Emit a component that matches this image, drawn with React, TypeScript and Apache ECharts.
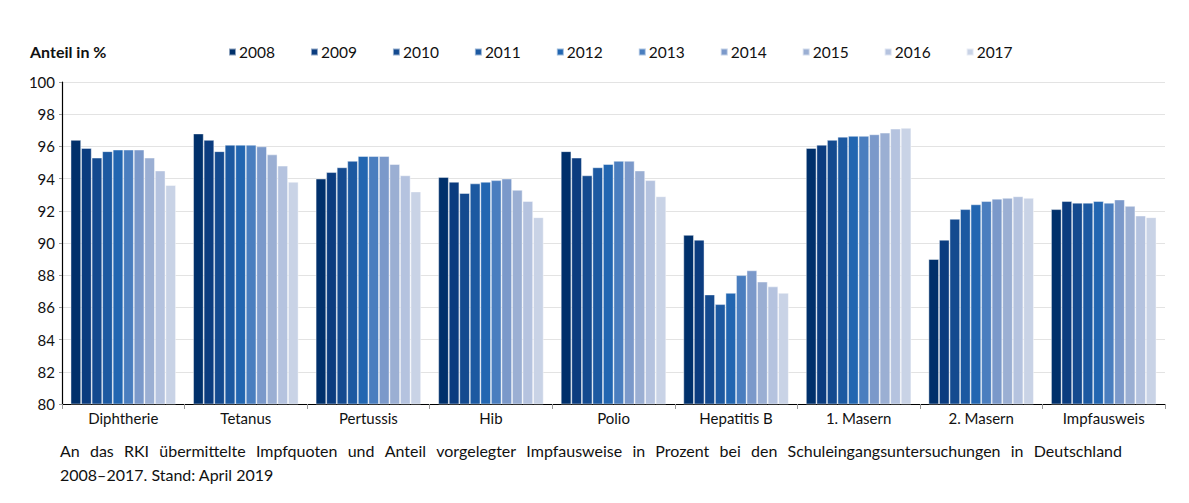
import React, { useEffect, useRef } from "react";
import * as echarts from "echarts";

const categories = ["Diphtherie", "Tetanus", "Pertussis", "Hib", "Polio", "Hepatitis B", "1. Masern", "2. Masern", "Impfausweis"];
const years = ["2008", "2009", "2010", "2011", "2012", "2013", "2014", "2015", "2016", "2017"];

// values per vaccine, one entry per year 2008..2017
const diphtherie = [96.4, 95.9, 95.3, 95.7, 95.8, 95.8, 95.8, 95.3, 94.5, 93.6];
const tetanus = [96.8, 96.4, 95.7, 96.1, 96.1, 96.1, 96.0, 95.5, 94.8, 93.8];
const pertussis = [94.0, 94.4, 94.7, 95.1, 95.4, 95.4, 95.4, 94.9, 94.2, 93.2];
const hib = [94.1, 93.8, 93.1, 93.7, 93.8, 93.9, 94.0, 93.3, 92.6, 91.6];
const polio = [95.7, 95.3, 94.2, 94.7, 94.9, 95.1, 95.1, 94.5, 93.9, 92.9];
const hepatitisB = [90.5, 90.2, 86.8, 86.2, 86.9, 88.0, 88.3, 87.6, 87.3, 86.9];
const masern1 = [95.9, 96.1, 96.4, 96.6, 96.65, 96.65, 96.75, 96.85, 97.1, 97.15];
const masern2 = [89.0, 90.2, 91.5, 92.1, 92.4, 92.6, 92.75, 92.8, 92.9, 92.8];
const impfausweis = [92.1, 92.6, 92.5, 92.5, 92.6, 92.5, 92.7, 92.3, 91.7, 91.6];

const yTicks = [80, 82, 84, 86, 88, 90, 92, 94, 96, 98, 100];

const colors = ["#00306b", "#0b3c7f", "#144a8f", "#1c59a1", "#2266b1", "#4a7ebf", "#7b99ca", "#9bafd3", "#b5c3df", "#c9d3e6"];

const yAxisTitle = "Anteil in %";
const captionLine1 = "An das RKI übermittelte Impfquoten und Anteil vorgelegter Impfausweise in Prozent bei den Schuleingangsuntersuchungen in Deutschland";
const captionLine2 = "2008–2017. Stand: April 2019";

const FONT = "Lato, 'Open Sans', sans-serif";
const CAPTION_SIZE = 16;

function justifiedRich(text: string, width: number, fontSize: number) {
  const words = text.split(" ");
  let gap = fontSize * 0.3;
  try {
    const ctx = document.createElement("canvas").getContext("2d");
    if (ctx) {
      ctx.font = `${fontSize}px Lato`;
      const total = words.reduce((s, w) => s + ctx.measureText(w).width, 0);
      gap = Math.max(fontSize * 0.25, (width - total) / (words.length - 1));
    }
  } catch (e) {}
  const parts: string[] = [];
  words.forEach((w, i) => {
    parts.push(`{w|${w}}`);
    if (i < words.length - 1) parts.push(`{s| }`);
  });
  return { text: parts.join(""), gap };
}

export default function App() {
  const ref = useRef<HTMLDivElement>(null);
  useEffect(() => {
    if (!ref.current) return;
    const chart = echarts.init(ref.current, null, { renderer: "svg" });
    const byVaccine = [diphtherie, tetanus, pertussis, hib, polio, hepatitisB, masern1, masern2, impfausweis];
    const series = years.map((y, i) => ({
      name: y,
      type: "bar" as const,
      data: byVaccine.map((arr) => arr[i]),
      barGap: "0%",
      barCategoryGap: "14%",
      itemStyle: { color: colors[i], borderColor: "rgba(255,255,255,0.55)", borderWidth: 0.8 },
    }));
    const cap = justifiedRich(captionLine1, 1062, CAPTION_SIZE);
    chart.setOption({
      animation: false,
      textStyle: { fontFamily: FONT },
      grid: { left: 62, right: 24, top: 82, bottom: 99 },
      legend: {
        data: years,
        left: 223,
        top: 39,
        itemWidth: 7,
        itemHeight: 7,
        itemGap: 35,
        icon: "rect",
        textStyle: { fontSize: 15.5, color: "#111", fontFamily: FONT, padding: [0, 0, 0, -2] },
      },
      xAxis: {
        type: "category",
        data: categories,
        axisLine: { lineStyle: { color: "#000", width: 1.2 } },
        axisTick: { show: true, alignWithLabel: false, length: 5, lineStyle: { color: "#999" } },
        axisLabel: { fontSize: 15, color: "#111", margin: 6, fontFamily: FONT },
      },
      yAxis: {
        type: "value",
        min: 80,
        max: 100,
        interval: 2,
        axisLine: { show: true, lineStyle: { color: "#000", width: 1.2 } },
        axisTick: { show: true, length: 3, lineStyle: { color: "#999" } },
        axisLabel: {
          fontSize: 15,
          color: "#111",
          margin: 7,
          fontFamily: FONT,
          formatter: (v: number) => (yTicks.includes(v) ? String(v) : ""),
        },
        splitLine: { lineStyle: { color: "#e3e3e3", width: 1 } },
      },
      graphic: [
        {
          type: "text",
          left: 30,
          top: 43,
          style: { text: yAxisTitle, fontSize: 16, fontWeight: "bold", fill: "#111", fontFamily: FONT },
        },
        {
          type: "text",
          left: 60,
          top: 442,
          style: {
            text: cap.text,
            fontSize: CAPTION_SIZE,
            fill: "#111",
            fontFamily: FONT,
            rich: {
              w: { fontSize: CAPTION_SIZE, fill: "#111", fontFamily: FONT },
              s: { fontSize: CAPTION_SIZE, width: cap.gap, fontFamily: FONT },
            },
          },
        },
        {
          type: "text",
          left: 60,
          top: 466,
          style: { text: captionLine2, fontSize: CAPTION_SIZE, fill: "#111", fontFamily: FONT },
        },
      ],
      series,
    });
    return () => chart.dispose();
  }, []);
  return <div ref={ref} style={{ position: "absolute", left: 0, top: 0, width: 1189, height: 503 }} />;
}
